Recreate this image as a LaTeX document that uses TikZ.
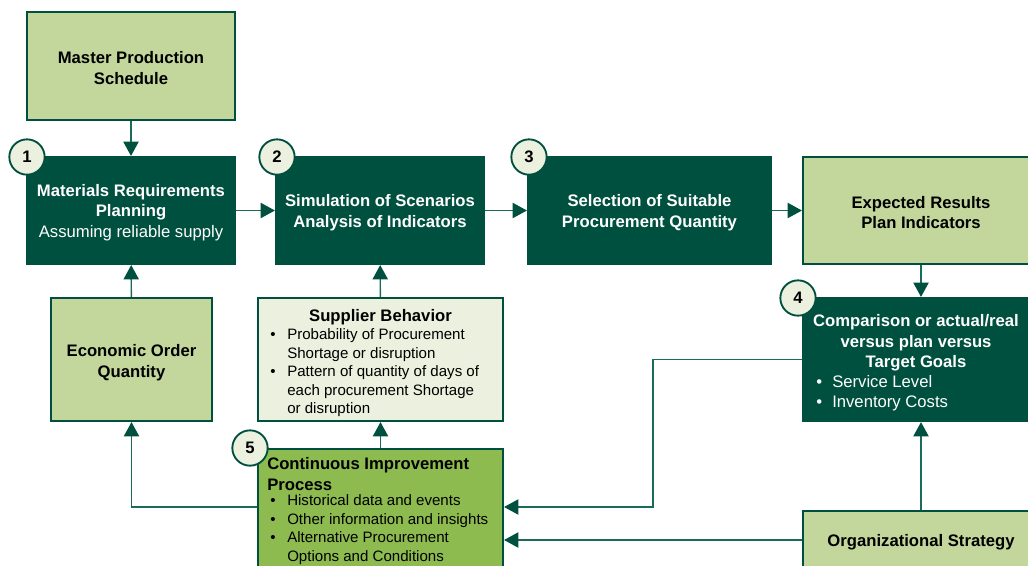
\documentclass[tikz,border=0pt]{standalone}
\usepackage{fontspec}
\setmainfont{Liberation Sans}
\usetikzlibrary{arrows.meta}
\definecolor{dk}{HTML}{00503F}
\definecolor{ln}{HTML}{1A6B57}
\definecolor{lg}{HTML}{C3D69B}
\definecolor{pale}{HTML}{EBF1DE}
\definecolor{cig}{HTML}{8DBB4F}
\newcommand\tfont{\fontsize{12.5}{15.4}\selectfont}
\newcommand\sfont{\fontsize{11.3}{13.9}\selectfont}
\tikzset{
 box/.style={draw=dk, line width=1.6pt, inner sep=0pt},
 darkbox/.style={box, fill=dk},
 lightbox/.style={box, fill=lg},
 conn/.style={draw=ln, line width=1.1pt, -{Triangle[length=10.8pt,width=11.5pt,color=dk]}},
 num/.style={circle, draw=dk, fill=pale, line width=1.4pt, minimum size=26.5pt, inner sep=0pt, font=\bfseries\tfont},
 txt/.style={inner sep=0pt, align=left, yshift=-1.6pt},
 ctxt/.style={inner sep=0pt, align=center, yshift=-1.6pt, font=\bfseries\tfont},
 wtxt/.style={ctxt, text=white}
}
\begin{document}
\begin{tikzpicture}[x=0.75pt,y=-0.75pt]
\useasboundingbox (0,0) rectangle (1028,565);
\clip (0,0) rectangle (1028,565);
% boxes
\node[lightbox, minimum width=156pt, minimum height=81pt] (mps) at (131,66) {};
\node[darkbox, minimum width=156pt, minimum height=80.25pt] (mrp) at (131,210.5) {};
\node[darkbox, minimum width=156pt, minimum height=80.25pt] (sim) at (380,210.5) {};
\node[darkbox, minimum width=182.25pt, minimum height=80.25pt] (sel) at (649.5,210.5) {};
\node[lightbox, minimum width=177pt, minimum height=80.25pt] (exp) at (921,210.5) {};
\node[lightbox, minimum width=120.75pt, minimum height=92.25pt] (eoq) at (131.5,359.5) {};
\node[box, fill=pale, minimum width=183.75pt, minimum height=92.25pt] (sup) at (380.5,359.5) {};
\node[darkbox, minimum width=177pt, minimum height=92.25pt] (cmp) at (921,359.5) {};
\node[box, fill=cig, minimum width=183.75pt, minimum height=98.25pt] (ci) at (380.5,514.5) {};
\node[lightbox, minimum width=177pt, minimum height=43.5pt] (org) at (921,540) {};
\coordinate (ylow) at (0,507);
\coordinate (xmid) at (653,0);
% connectors
\draw[conn] (mps) -- (mrp);
\draw[conn] (mrp) -- (sim);
\draw[conn] (sim) -- (sel);
\draw[conn] (sel) -- (exp);
\draw[conn] (exp) -- (cmp);
\draw[conn] (eoq) -- (mrp);
\draw[conn] (sup) -- (sim);
\draw[conn] (ci) -- (sup);
\draw[conn] (ci.west |- ylow) -| (eoq.south);
\draw[conn] (cmp.west) -| (xmid |- ylow) -- (ci.east |- ylow);
\draw[conn] (org.west) -- (ci.east |- org.west);
\draw[conn] (org) -- (cmp);
% number circles
\node[num] (n1) at (27,157) {1};
\node[num] (n2) at (277,157) {2};
\node[num] (n3) at (529,157) {3};
\node[num] (n4) at (798,298) {4};
\node[num] (n5) at (250,448) {5};
% texts
\node[ctxt] (mpst) at (mps) {Master Production\\Schedule};
\node[wtxt] (mrpt) at (mrp) {Materials Requirements\\Planning\\\mdseries Assuming reliable supply};
\node[wtxt] (simt) at (sim) {Simulation of Scenarios\\Analysis of Indicators};
\node[wtxt] (selt) at (sel) {Selection of Suitable\\Procurement Quantity};
\node[ctxt] (expt) at (exp) {Expected Results\\Plan Indicators};
\node[ctxt] (eoqt) at ([yshift=-0.75pt]eoq.center) {Economic Order\\Quantity};
\node[ctxt] (orgt) at (org) {Organizational Strategy};
\node[ctxt] (supt) at (380.5,315) {Supplier Behavior};
\node[txt, font=\sfont, anchor=west] (supb) at (270,370.5) {\makebox[12.75pt][l]{\textbullet}Probability of Procurement\\\hspace*{12.75pt}Shortage or disruption\\\makebox[12.75pt][l]{\textbullet}Pattern of quantity of days of\\\hspace*{12.75pt}each procurement Shortage\\\hspace*{12.75pt}or disruption};
\node[wtxt] (cmpt) at (916,341) {Comparison or actual/real\\versus plan versus\\Target Goals};
\node[txt, text=white, font=\tfont, anchor=west] (cmpb) at (816,391) {\makebox[12pt][l]{\textbullet}Service Level\\\makebox[12pt][l]{\textbullet}Inventory Costs};
\node[txt, font=\bfseries\tfont, anchor=west] (cit) at (267,472) {Continuous Improvement\\Process};
\node[txt, font=\sfont, anchor=west] (cib) at (270,527.5) {\makebox[12.75pt][l]{\textbullet}Historical data and events\\\makebox[12.75pt][l]{\textbullet}Other information and insights\\\makebox[12.75pt][l]{\textbullet}Alternative Procurement\\\hspace*{12.75pt}Options and Conditions};
\end{tikzpicture}
\end{document}
